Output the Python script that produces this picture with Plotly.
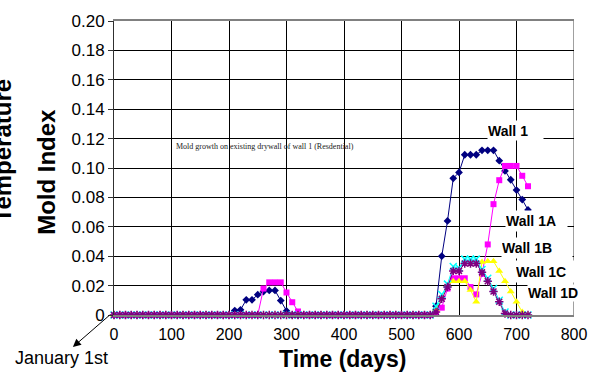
import plotly.graph_objects as go

# ---------------- data ----------------
days = [0, 10, 20, 30, 40, 50, 60, 70, 80, 90,
        100, 110, 120, 130, 140, 150, 160, 170, 180, 190,
        200, 210, 220, 230, 240, 250, 260, 270, 280, 290,
        300, 310, 320, 330, 340, 350, 360, 370, 380, 390,
        400, 410, 420, 430, 440, 450, 460, 470, 480, 490,
        500, 510, 520, 530, 540, 550, 560, 570, 580, 590,
        600, 610, 620, 630, 640, 650, 660, 670, 680, 690,
        700, 710, 720]

wall_1 = [0, 0, 0, 0, 0, 0, 0, 0, 0, 0,
          0, 0, 0, 0, 0, 0, 0, 0, 0, 0,
          0, 0.003, 0.0035, 0.0103, 0.0103, 0.0138, 0.016, 0.0167, 0.0167, 0.0098,
          0.0028, 0, 0, 0, 0, 0, 0, 0, 0, 0,
          0, 0, 0, 0, 0, 0, 0, 0, 0, 0,
          0, 0, 0, 0, 0, 0, 0.006, 0.040, 0.064, 0.093,
          0.097, 0.109, 0.109, 0.109, 0.112, 0.112, 0.112, 0.105, 0.098, 0.092,
          0.085, 0.0785, 0.0715]

wall_1a = [0, 0, 0, 0, 0, 0, 0, 0, 0, 0,
           0, 0, 0, 0, 0, 0, 0, 0, 0, 0,
           0, 0, 0, 0, 0, 0, 0.018, 0.0222, 0.0222, 0.0222,
           0.0153, 0.0087, 0.0024, 0, 0, 0, 0, 0, 0, 0,
           0, 0, 0, 0, 0, 0, 0, 0, 0, 0,
           0, 0, 0, 0, 0, 0, 0.001, 0.005, 0.018, 0.025,
           0.025, 0.025, 0.019, 0.014, 0.028, 0.048, 0.0754, 0.0917, 0.1014, 0.1014,
           0.1014, 0.0947, 0.0876]

wall_1b = [0, 0, 0, 0, 0, 0, 0, 0, 0, 0,
           0, 0, 0, 0, 0, 0, 0, 0, 0, 0,
           0, 0, 0, 0, 0, 0, 0, 0, 0, 0,
           0, 0, 0, 0, 0, 0, 0, 0, 0, 0,
           0, 0, 0, 0, 0, 0, 0, 0, 0, 0,
           0, 0, 0, 0, 0, 0, 0.004, 0.012, 0.020, 0.023,
           0.023, 0.023, 0.017, 0.009, 0.036, 0.0365, 0.0365, 0.030, 0.023, 0.016,
           0.009, 0.002, 0]

wall_1c = [0, 0, 0, 0, 0, 0, 0, 0, 0, 0,
           0, 0, 0, 0, 0, 0, 0, 0, 0, 0,
           0, 0, 0, 0, 0, 0, 0, 0, 0, 0,
           0, 0, 0, 0, 0, 0, 0, 0, 0, 0,
           0, 0, 0, 0, 0, 0, 0, 0, 0, 0,
           0, 0, 0, 0, 0, 0, 0.006, 0.014, 0.021, 0.033,
           0.032, 0.038, 0.038, 0.038, 0.031, 0.025, 0.018, 0.010, 0.002, 0,
           0, 0, 0]

wall_1d = [0, 0, 0, 0, 0, 0, 0, 0, 0, 0,
           0, 0, 0, 0, 0, 0, 0, 0, 0, 0,
           0, 0, 0, 0, 0, 0, 0, 0, 0, 0,
           0, 0, 0, 0, 0, 0, 0, 0, 0, 0,
           0, 0, 0, 0, 0, 0, 0, 0, 0, 0,
           0, 0, 0, 0, 0, 0, 0.002, 0.011, 0.019, 0.030,
           0.030, 0.035, 0.035, 0.035, 0.029, 0.023, 0.016, 0.009, 0.001, 0,
           0, 0, 0]

x_ticks = [0, 100, 200, 300, 400, 500, 600, 700, 800]
y_ticks = [0, 0.02, 0.04, 0.06, 0.08, 0.10, 0.12, 0.14, 0.16, 0.18, 0.20]
y_tick_text = ["0", "0.02", "0.04", "0.06", "0.08", "0.10", "0.12", "0.14", "0.16", "0.18", "0.20"]

series_names = ["Wall 1", "Wall 1A", "Wall 1B", "Wall 1C", "Wall 1D"]

# ---------------- layout geometry ----------------
W, H = 599, 373
L, R, T, B = 114, 584, 12, 315  # plot area in pixels


def px(xp):
    return (xp - L) / (R - L)


def py(yp):
    return (B - yp) / (B - T)


ARIAL = "Arial, Liberation Sans, sans-serif"

fig = go.Figure()

styles = [
    dict(color="#000080", symbol="diamond", size=6),
    dict(color="#FF00FF", symbol="square", size=6),
    dict(color="#FFFF00", symbol="triangle-up", size=7),
    dict(color="#00FFFF", symbol="x-thin-open", size=7),
    dict(color="#800080", symbol="asterisk-open", size=7),
]
for name, vals, st in zip(series_names, [wall_1, wall_1a, wall_1b, wall_1c, wall_1d], styles):
    open_sym = st["symbol"].endswith("open")
    fig.add_trace(go.Scatter(
        x=days, y=vals, name=name, mode="lines+markers",
        line=dict(color=st["color"], width=1),
        marker=dict(symbol=st["symbol"], size=st["size"], color=st["color"],
                    line=dict(color=st["color"], width=1.5 if open_sym else 0)),
        cliponaxis=False, showlegend=False,
    ))

annotations = []


def label(text, xc, yc, size, bold=False, angle=0, family=ARIAL, color="black"):
    return dict(text=("<b>%s</b>" % text) if bold else text, textangle=angle,
                x=px(xc), y=py(yc), xref="paper", yref="paper",
                xanchor="center", yanchor="middle", showarrow=False,
                font=dict(family=family, size=size, color=color))


annotations.append(label("Temperature", 0, 145, 24, bold=True, angle=-90))
annotations.append(label("Mold Index", 45, 167, 24, bold=True, angle=-90))
annotations.append(label("Time (days)", 347, 360, 23, bold=True))
annotations.append(label("January 1st", 60, 359, 18))
annotations.append(label("Mold growth on existing drywall of wall 1 (Resdential)", 268, 141, 8,
                         family="Liberation Serif, Times New Roman, serif", color="#222222"))
# arrow pointing to January 1st
annotations.append(dict(text="", x=px(72), y=py(348), xref="paper", yref="paper",
                        showarrow=True, ax=38, ay=-33, arrowhead=2, arrowsize=1.6,
                        arrowwidth=1, arrowcolor="black"))

# series labels with white boxes: (text, left px, right px, top px, bottom px)
label_boxes = [
    ("Wall 1", 495, 550, 115, 134),
    ("Wall 1A", 514, 575, 208, 228),
    ("Wall 1B", 509, 579, 236, 256),
    ("Wall 1C", 524, 585, 260, 281),
    ("Wall 1D", 536, 597, 284, 300),
]
for txt, x0, x1, y0, y1 in label_boxes:
    annotations.append(dict(text="<b>%s</b>" % txt, x=px(x0), y=py((y0 + y1) / 2),
                            xref="paper", yref="paper", xanchor="left", yanchor="middle",
                            width=x1 - x0, height=y1 - y0, align="left", valign="middle",
                            bgcolor="white", borderpad=0, showarrow=False,
                            font=dict(family=ARIAL, size=14, color="black")))

fig.update_layout(
    width=W, height=H,
    margin=dict(l=L, r=W - R, t=T, b=H - B, pad=0),
    paper_bgcolor="white", plot_bgcolor="white",
    annotations=annotations,
    shapes=[dict(type="line", xref="x", yref="paper", x0=800, x1=800, y0=0, y1=1,
                 line=dict(color="#808080", width=1.5), layer="between")],
)
fig.update_xaxes(range=[0, 800], tickvals=x_ticks, showgrid=True, gridcolor="black",
                 gridwidth=1, showline=True, linecolor="#808080", linewidth=1.5, mirror=True,
                 zeroline=False, ticks="", ticklabelstandoff=4,
                 tickfont=dict(family=ARIAL, size=16, color="black"))
fig.update_yaxes(range=[0, 0.2], tickvals=y_ticks, ticktext=y_tick_text, showgrid=True,
                 gridcolor="black", gridwidth=1, showline=True, linecolor="#303030",
                 linewidth=1, mirror=False, zeroline=False, ticks="outside", ticklen=5,
                 tickcolor="#303030",
                 tickfont=dict(family=ARIAL, size=17, color="black"))

fig.write_html("out.html", config={"displayModeBar": False},
               post_script="document.body.style.margin='0';"
                           "document.body.style.overflow='hidden';")
